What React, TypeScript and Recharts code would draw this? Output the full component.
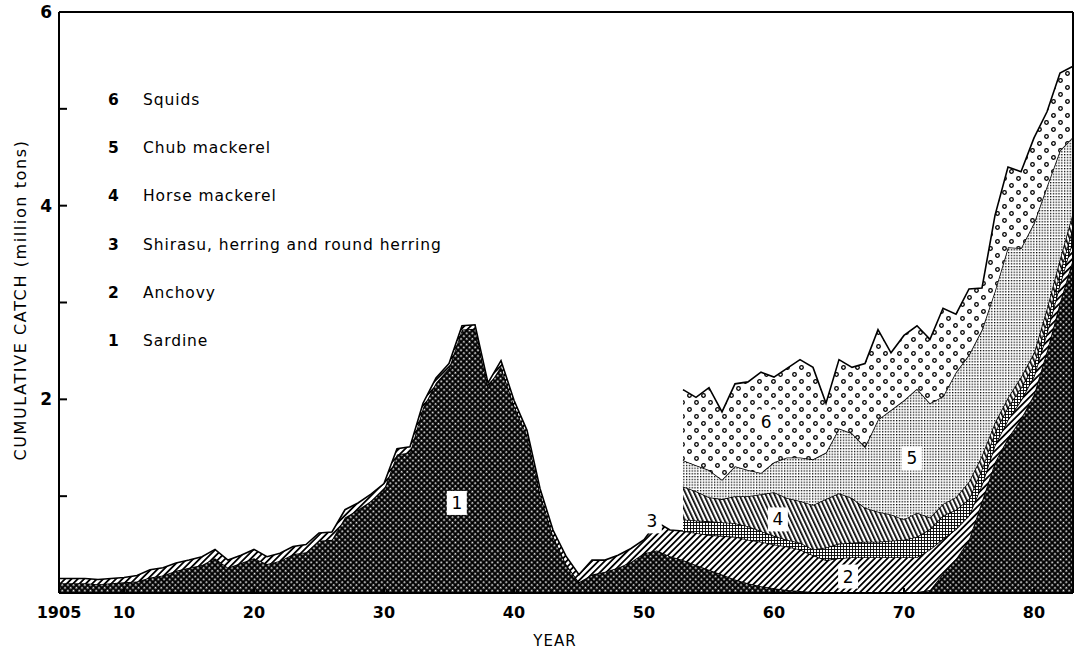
import React from "react";
import {
  AreaChart,
  Area,
  XAxis,
  YAxis,
  ReferenceLine,
  ReferenceDot,
  Legend,
} from "recharts";

// Annual catch, million tons, 1905–1983
const FIRST_YEAR = 1905;
const LAST_YEAR = 1983;
const years = Array.from(
  { length: LAST_YEAR - FIRST_YEAR + 1 },
  (_, i) => FIRST_YEAR + i
);

const sardine = [
  0.1, 0.1, 0.1, 0.09, 0.1,
  0.11, 0.12, 0.16, 0.18, 0.23, 0.26, 0.29, 0.36, 0.26, 0.31,
  0.36, 0.3, 0.33, 0.4, 0.42, 0.54, 0.55, 0.78, 0.86, 0.95,
  1.07, 1.43, 1.45, 1.91, 2.17, 2.32, 2.72, 2.73, 2.13, 2.34,
  1.94, 1.63, 1.03, 0.59, 0.3, 0.11, 0.19, 0.22, 0.26, 0.32,
  0.41, 0.44, 0.38, 0.34, 0.29, 0.24, 0.19, 0.14, 0.1, 0.07,
  0.05, 0.03, 0.02, 0.01, 0.01, 0.01, 0.01, 0.01, 0.01, 0.01,
  0.01, 0.01, 0.03, 0.2, 0.35, 0.55, 0.95, 1.35, 1.6, 1.8,
  2.05, 2.5, 3.0, 3.45,
];

const anchovy = [
  0.05, 0.05, 0.05, 0.05, 0.05,
  0.05, 0.06, 0.08, 0.08, 0.08, 0.08, 0.085, 0.09, 0.08, 0.08,
  0.09, 0.075, 0.08, 0.08, 0.08, 0.08, 0.08, 0.08, 0.07, 0.07,
  0.06, 0.06, 0.06, 0.05, 0.05, 0.05, 0.04, 0.04, 0.04, 0.06,
  0.05, 0.05, 0.05, 0.06, 0.08, 0.08, 0.15, 0.12, 0.13, 0.14,
  0.14, 0.29, 0.27, 0.3, 0.33, 0.36, 0.4, 0.44, 0.45, 0.46,
  0.45, 0.45, 0.43, 0.38, 0.33, 0.35, 0.36, 0.36, 0.36, 0.36,
  0.36, 0.36, 0.42, 0.36, 0.31, 0.25, 0.17, 0.18, 0.19, 0.19,
  0.19, 0.19, 0.19, 0.2,
];

// the remaining groups are only recorded from 1953 on
const SPLIT_YEAR = 1953;

const shirasu = [
  0.12, 0.13, 0.14, 0.14, 0.14, 0.14, 0.11,
  0.09, 0.07, 0.07, 0.06, 0.13, 0.15, 0.15, 0.16, 0.16, 0.17,
  0.18, 0.21, 0.21, 0.24, 0.2, 0.17, 0.16, 0.13, 0.13, 0.13,
  0.12, 0.12, 0.12, 0.13,
];

const horseMackerel = [
  0.34, 0.3, 0.25, 0.24, 0.28, 0.31, 0.38,
  0.45, 0.43, 0.43, 0.46, 0.5, 0.52, 0.46, 0.35, 0.31, 0.27,
  0.21, 0.25, 0.12, 0.12, 0.13, 0.18, 0.14, 0.1, 0.1, 0.11,
  0.12, 0.13, 0.14, 0.15,
];

const chubMackerel = [
  0.27, 0.27, 0.28, 0.2, 0.31, 0.27, 0.22,
  0.31, 0.42, 0.45, 0.47, 0.48, 0.67, 0.67, 0.63, 0.95, 1.08,
  1.23, 1.28, 1.18, 1.11, 1.29, 1.31, 1.3, 1.36, 1.55, 1.33,
  1.34, 1.26, 1.12, 0.78,
];

const squids = [
  0.73, 0.7, 0.85, 0.7, 0.85, 0.91, 1.04,
  0.88, 0.92, 1.01, 0.95, 0.51, 0.71, 0.68, 0.86, 0.93, 0.59,
  0.67, 0.65, 0.66, 0.91, 0.6, 0.68, 0.43, 0.78, 0.83, 0.79,
  0.88, 0.77, 0.8, 0.73,
];

const xTicks = [1905, 1910, 1920, 1930, 1940, 1950, 1960, 1970, 1980];
const yTicks = [0, 1, 2, 3, 4, 5, 6];
const yLabeled = [2, 4, 6];

const FONT = '"DejaVu Sans", sans-serif';

const late = (arr: number[], year: number) =>
  year < SPLIT_YEAR ? null : arr[year - SPLIT_YEAR];

const data = years.map((year, i) => ({
  year,
  sardine: sardine[i],
  anchovy: anchovy[i],
  shirasu: late(shirasu, year),
  horse: late(horseMackerel, year),
  chub: late(chubMackerel, year),
  squids: late(squids, year),
}));

const SERIES = [
  { key: "sardine", num: 1, name: "Sardine", fill: "url(#patSardine)" },
  { key: "anchovy", num: 2, name: "Anchovy", fill: "url(#patAnchovy)" },
  {
    key: "shirasu",
    num: 3,
    name: "Shirasu, herring and round herring",
    fill: "url(#patShirasu)",
  },
  { key: "horse", num: 4, name: "Horse mackerel", fill: "url(#patHorse)" },
  { key: "chub", num: 5, name: "Chub mackerel", fill: "url(#patChub)" },
  { key: "squids", num: 6, name: "Squids", fill: "url(#patSquids)" },
];

// number tags placed inside the bands (year, cumulative tons)
const TAGS = [
  { num: 1, year: 1935.6, value: 0.93 },
  { num: 2, year: 1965.7, value: 0.17 },
  { num: 3, year: 1950.6, value: 0.74 },
  { num: 4, year: 1960.3, value: 0.76 },
  { num: 5, year: 1970.6, value: 1.39 },
  { num: 6, year: 1959.4, value: 1.77 },
];

const tagShape =
  (num: number) =>
  ({ cx, cy }: { cx: number; cy: number }) =>
    (
      <g>
        <rect x={cx - 10} y={cy - 12} width={20} height={24} fill="#fff" />
        <text
          x={cx}
          y={cy}
          textAnchor="middle"
          dominantBaseline="central"
          fontFamily={FONT}
          fontSize={17}
          fill="#000"
        >
          {num}
        </text>
      </g>
    );

const XTick = ({ x, y, payload }: any) => (
  <g>
    <line x1={x} x2={x} y1={y} y2={y - 5} stroke="#000" strokeWidth={2} />
    <text
      x={x}
      y={y + 25}
      textAnchor="middle"
      fontFamily={FONT}
      fontWeight={700}
      fontSize={16}
      fill="#000"
    >
      {payload.value === 1905 ? "1905" : String(payload.value % 100)}
    </text>
  </g>
);

const YTick = ({ x, y, payload }: any) => (
  <g>
    <line x1={x} x2={x + 8} y1={y} y2={y} stroke="#000" strokeWidth={2} />
    {yLabeled.includes(payload.value) && (
      <text
        x={x - 7}
        y={y}
        textAnchor="end"
        dominantBaseline="central"
        fontFamily={FONT}
        fontWeight={700}
        fontSize={17}
        fill="#000"
      >
        {payload.value}
      </text>
    )}
  </g>
);

const renderLegend = () => (
  <div
    style={{
      fontFamily: FONT,
      fontSize: 15.5,
      letterSpacing: 0.9,
      color: "#000",
    }}
  >
    {[...SERIES].reverse().map((s) => (
      <div
        key={s.key}
        style={{ height: 48.2, display: "flex", alignItems: "center" }}
      >
        <span style={{ width: 35, fontWeight: 700, paddingLeft: 4 }}>
          {s.num}
        </span>
        <span>{s.name}</span>
      </div>
    ))}
  </div>
);

export default function App() {
  return (
    <div
      style={{
        position: "absolute",
        left: 0,
        top: 0,
        width: 1076,
        height: 652,
        background: "#fff",
      }}
    >
      <AreaChart
        width={1076}
        height={652}
        data={data}
        margin={{ top: 12, right: 3, bottom: 9, left: 9 }}
      >
        <defs>
          <pattern
            id="patSardine"
            width={4}
            height={4}
            patternUnits="userSpaceOnUse"
            patternTransform="rotate(45)"
          >
            <rect width={4} height={4} fill="#000" />
            <rect x={0.8} y={0.8} width={1.7} height={1.7} fill="#fff" />
          </pattern>
          <pattern
            id="patAnchovy"
            width={4.5}
            height={4.5}
            patternUnits="userSpaceOnUse"
            patternTransform="rotate(45)"
          >
            <rect width={4.5} height={4.5} fill="#fff" />
            <rect width={1.8} height={4.5} fill="#000" />
          </pattern>
          <pattern
            id="patShirasu"
            width={3}
            height={3}
            patternUnits="userSpaceOnUse"
          >
            <rect width={3} height={3} fill="#fff" />
            <rect width={3} height={0.9} fill="#000" />
            <rect width={0.9} height={3} fill="#000" />
          </pattern>
          <pattern
            id="patHorse"
            width={4}
            height={4}
            patternUnits="userSpaceOnUse"
            patternTransform="rotate(-25)"
          >
            <rect width={4} height={4} fill="#fff" />
            <rect width={1.7} height={4} fill="#000" />
          </pattern>
          <pattern
            id="patChub"
            width={2.8}
            height={2.8}
            patternUnits="userSpaceOnUse"
          >
            <rect width={2.8} height={2.8} fill="#fff" />
            <rect width={1.3} height={1.3} fill="#000" />
          </pattern>
          <pattern
            id="patSquids"
            width={14}
            height={14}
            patternUnits="userSpaceOnUse"
          >
            <rect width={14} height={14} fill="#fff" />
            <circle cx={3.5} cy={3.5} r={1.8} fill="#fff" stroke="#000" strokeWidth={1.3} />
            <circle cx={10.5} cy={10.5} r={1.8} fill="#fff" stroke="#000" strokeWidth={1.3} />
          </pattern>
        </defs>

        <XAxis
          dataKey="year"
          type="number"
          domain={[FIRST_YEAR, LAST_YEAR]}
          ticks={xTicks}
          height={50}
          tickSize={0}
          tickMargin={0}
          tick={<XTick />}
          axisLine={{ stroke: "#000", strokeWidth: 2 }}
          tickLine={false}
          interval={0}
        />
        <YAxis
          type="number"
          domain={[0, 6]}
          ticks={yTicks}
          width={50}
          tickSize={0}
          tickMargin={0}
          tick={<YTick />}
          axisLine={{ stroke: "#000", strokeWidth: 2 }}
          tickLine={false}
          interval={0}
          allowDataOverflow
        />

        {SERIES.map((s) => (
          <Area
            key={s.key}
            type="linear"
            dataKey={s.key}
            name={s.name}
            stackId="catch"
            fill={s.fill}
            fillOpacity={1}
            stroke="#000"
            strokeWidth={1.6}
            isAnimationActive={false}
          />
        ))}

        <ReferenceLine y={6} stroke="#000" strokeWidth={2} />
        <ReferenceLine x={LAST_YEAR} stroke="#000" strokeWidth={2} />

        {TAGS.map((t) => (
          <ReferenceDot
            key={t.num}
            x={t.year}
            y={t.value}
            r={0}
            shape={tagShape(t.num)}
          />
        ))}

        <Legend
          layout="vertical"
          align="center"
          verticalAlign="middle"
          content={renderLegend}
          wrapperStyle={{ left: 104, top: 76, width: 440 }}
        />
      </AreaChart>

      <div
        style={{
          position: "absolute",
          left: 20,
          top: 300,
          transform: "translate(-50%, -50%) rotate(-90deg)",
          whiteSpace: "nowrap",
          fontFamily: FONT,
          fontSize: 16,
          letterSpacing: 1.6,
          color: "#000",
        }}
      >
        CUMULATIVE CATCH (million tons)
      </div>
      <div
        style={{
          position: "absolute",
          left: 555,
          top: 641,
          transform: "translate(-50%, -50%)",
          fontFamily: FONT,
          fontSize: 15,
          color: "#000",
          letterSpacing: 1,
        }}
      >
        YEAR
      </div>
    </div>
  );
}
